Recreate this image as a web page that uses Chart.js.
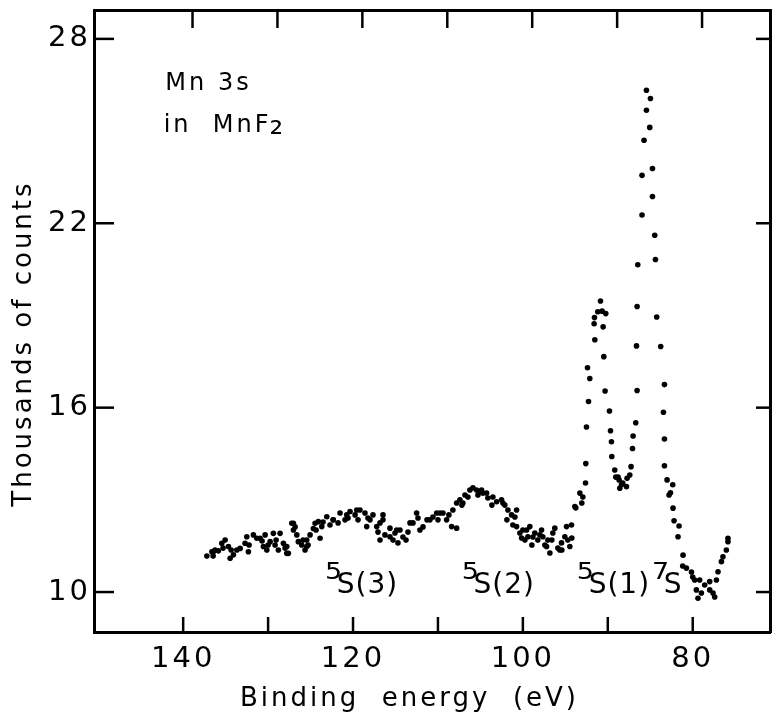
<!DOCTYPE html>
<html>
<head>
<meta charset="utf-8">
<script src="https://cdn.jsdelivr.net/npm/chart.js@4"></script>
<style>
  body { margin: 0; background: #fff; }
  canvas { display: block; }
</style>
</head>
<body>
<canvas id="chart" width="775" height="720"></canvas>
<script>
// Mn 3s spectrum in MnF2 - binding energy (eV) vs thousands of counts
const bandEnergy = [
  137.21, 136.62, 136.44, 136.24, 135.85, 135.45, 135.06, 134.67, 134.47, 134.08,
  133.68, 133.29, 132.71, 132.51, 132.32, 131.73, 131.33, 130.94, 130.55, 130.35,
  130.15, 129.76, 129.38, 129.18, 128.79, 128.59, 128.20, 127.80, 127.80, 127.61,
  127.21, 127.02, 127.02, 126.62, 126.44, 126.04, 125.65, 125.45, 125.45, 125.06,
  124.67, 124.47, 124.08, 123.88, 123.68, 123.09, 122.35, 122.32, 121.53, 120.94,
  120.74, 120.35, 119.76, 119.56, 119.18, 118.59, 118.39, 118.00, 117.65, 117.21,
  116.82, 116.82, 116.47, 116.47, 116.24, 115.65, 115.65, 115.29, 115.06, 114.86,
  114.71, 114.12, 113.53, 113.29, 112.94, 112.51, 112.35, 111.76, 111.29, 110.94,
  110.59, 110.15, 109.76, 109.41, 108.98, 108.39, 108.24, 107.80, 107.80, 107.41,
  107.06, 106.82, 106.47, 106.24, 105.88, 105.45, 105.06, 104.86, 104.71, 104.27,
  104.12, 103.53, 103.09, 102.51, 102.35, 102.12, 101.76, 101.33, 100.94, 100.74,
  100.74, 100.35, 100.15, 100.00, 99.56, 99.41, 99.18, 98.82, 98.59, 98.24,
  97.80, 97.65, 97.21, 97.06, 96.82, 96.47, 96.24, 95.88, 95.65, 95.45,
  95.06, 94.86, 94.71, 94.47, 94.27, 93.88
];
const bandCounts = [
  11.17, 11.31, 11.31, 11.37, 11.34, 11.59, 11.69, 11.48, 11.10, 11.21,
  11.37, 11.42, 11.59, 11.80, 11.31, 11.86, 11.75, 11.75, 11.48, 11.86,
  11.37, 11.64, 11.91, 11.53, 11.37, 11.91, 11.59, 11.48, 11.26, 11.26,
  12.24, 12.02, 12.24, 11.86, 11.64, 11.53, 11.37, 11.69, 11.48, 11.86,
  12.07, 12.24, 12.29, 11.75, 12.13, 12.45, 12.35, 12.35, 12.57, 12.35,
  12.51, 12.62, 12.51, 12.67, 12.67, 12.57, 12.13, 12.35, 12.51, 12.13,
  12.25, 11.69, 12.35, 12.51, 11.86, 12.08, 11.80, 11.69, 11.92, 12.02,
  11.60, 11.79, 11.95, 12.25, 12.25, 12.57, 12.41, 12.12, 12.35, 12.35,
  12.44, 12.57, 12.57, 12.57, 12.35, 12.13, 12.67, 12.90, 12.08, 13.00,
  12.90, 13.16, 13.09, 13.32, 13.39, 13.32, 13.26, 13.32, 13.22, 13.22,
  13.06, 13.09, 12.94, 13.00, 12.90, 12.83, 12.67, 12.51, 12.44, 12.67,
  12.13, 11.92, 11.76, 12.02, 12.02, 11.80, 12.13, 11.79, 11.92, 11.69,
  12.02, 11.80, 11.48, 11.69, 11.27, 11.92, 12.08, 11.43, 11.37, 11.60,
  11.80, 12.13, 11.69, 11.48, 12.18, 12.78
];
// extra dots inside the dense, overlapping clumps of the broad band
const clumpEnergy = [
  136.47, 135.30, 134.35, 132.24, 130.71, 130.00, 129.06, 128.00, 126.82, 125.88,
  125.29, 124.35, 123.53, 122.71, 121.76, 120.59, 119.41, 118.24, 117.06, 114.47,
  113.76, 112.12, 110.00, 108.71, 107.18, 105.29, 103.65, 101.88, 101.18, 99.76,
  98.94, 98.00, 97.41, 96.59, 95.41, 94.24
];
const clumpCounts = [
  11.17, 11.43, 11.37, 11.53, 11.66, 11.53, 11.69, 11.43, 12.12, 11.69,
  11.53, 12.02, 12.28, 12.18, 12.25, 12.41, 12.35, 12.41, 11.95, 12.02,
  11.69, 12.02, 12.35, 12.51, 12.83, 13.16, 12.83, 12.35, 12.18, 11.69,
  11.53, 11.86, 11.53, 11.69, 11.37, 11.76
];
const peakEnergy = [
  93.77, 93.29, 93.06, 92.94, 92.62, 92.59, 92.51, 92.39, 92.27, 92.12,
  91.61, 91.57, 91.53, 91.18, 90.86, 90.67, 90.55, 90.47, 90.32, 90.24,
  89.80, 89.68, 89.57, 89.53, 89.18, 89.06, 88.79, 88.67, 88.59, 88.39,
  88.24, 87.80, 87.73, 87.41, 87.26, 87.09, 87.02, 86.71, 86.62, 86.55,
  86.55, 86.47, 85.97, 85.97, 85.73, 85.45, 85.45, 85.06, 84.98, 84.74,
  84.74, 84.47, 84.39, 84.24, 83.77, 83.45, 83.33, 83.33, 83.33, 83.02,
  82.79, 82.62, 82.35, 82.32, 82.20, 81.73, 81.61, 81.18, 81.14, 80.74,
  80.15, 80.00, 79.77, 79.57, 79.38, 79.18, 78.98, 78.59, 78.00, 78.00,
  77.61, 77.41, 77.21, 77.02, 76.62, 76.44, 76.04, 75.85, 75.85
];
const peakCounts = [
  12.74, 13.22, 12.90, 13.09, 13.55, 14.18, 15.37, 17.30, 16.20, 16.95,
  18.73, 18.93, 18.21, 19.12, 19.47, 19.14, 18.63, 17.66, 16.54, 19.06,
  15.89, 15.25, 14.89, 14.41, 13.97, 13.74, 13.74, 13.65, 13.38, 13.49,
  13.55, 13.43, 13.70, 13.81, 14.08, 14.67, 15.08, 15.51, 18.01, 16.56,
  19.29, 20.65, 22.27, 23.56, 24.70, 25.68, 26.33, 25.12, 26.06, 23.78,
  22.87, 21.61, 20.82, 18.95, 17.99, 15.85, 16.75, 14.98, 14.11, 13.65,
  13.16, 13.23, 13.49, 12.73, 12.32, 11.80, 12.15, 10.85, 11.20, 10.78,
  10.65, 10.49, 10.39, 10.07, 9.80, 10.39, 9.97, 10.23, 10.07, 10.34,
  9.97, 9.84, 10.39, 10.66, 10.99, 11.15, 11.37, 11.64, 11.75
];
const xTicks = [140, 130, 120, 110, 100, 90, 80];
const yTicks = [10, 16, 22, 28];
// labels drawn in the plot: main text, superscript, subscript
const noteTexts = ['Mn 3s', 'in  MnF', 'S(3)', 'S(2)', 'S(1)', 'S'];
const noteSup = ['', '', '⁵', '⁵', '⁵', '⁷'];
const noteSub = ['', '₂', '', '', '', ''];
const noteEnergy = [142.1, 142.3, 123.3, 107.2, 93.65, 84.8];
const noteCounts = [26.35, 24.98, 9.97, 9.97, 9.97, 9.97];

const FONT = 'DejaVu Sans';
const toPoints = (xs, ys) => xs.map((e, i) => ({ x: e, y: ys[i] }));
const points = toPoints(bandEnergy, bandCounts)
  .concat(toPoints(clumpEnergy, clumpCounts))
  .concat(toPoints(peakEnergy, peakCounts));

// tick marks point into the plot on all four sides
const tickLen = { x: 15, x2: 18, y: 20, y2: 14 };

const decor = {
  id: 'decor',
  beforeDraw(chart) {
    chart.ctx.letterSpacing = '3px';
  },
  afterDraw(chart) {
    const { ctx, chartArea: a } = chart;
    ctx.save();
    ctx.strokeStyle = '#000';
    ctx.lineWidth = 2.5;
    Object.keys(tickLen).forEach(id => {
      const s = chart.scales[id];
      const len = tickLen[id];
      s.ticks.forEach(t => {
        const p = s.getPixelForValue(t.value);
        ctx.beginPath();
        if (id === 'x') { ctx.moveTo(p, a.bottom); ctx.lineTo(p, a.bottom - len); }
        if (id === 'x2') { ctx.moveTo(p, a.top); ctx.lineTo(p, a.top + len); }
        if (id === 'y') { ctx.moveTo(a.left, p); ctx.lineTo(a.left + len, p); }
        if (id === 'y2') { ctx.moveTo(a.right, p); ctx.lineTo(a.right - len, p); }
        ctx.stroke();
      });
    });

    ctx.fillStyle = '#000';
    ctx.textBaseline = 'alphabetic';
    ctx.textAlign = 'left';
    noteTexts.forEach((txt, i) => {
      const small = i < 2;
      let x = chart.scales.x.getPixelForValue(noteEnergy[i]);
      const y = chart.scales.y.getPixelForValue(noteCounts[i]);
      ctx.letterSpacing = small ? '3px' : '1px';
      if (noteSup[i]) {
        ctx.font = '42px "' + FONT + '"';
        ctx.fillText(noteSup[i], x, y);
        x += ctx.measureText(noteSup[i]).width - 6;
      }
      ctx.font = (small ? 24 : 28) + 'px "' + FONT + '"';
      ctx.fillText(txt, x, y);
      if (noteSub[i]) {
        x += ctx.measureText(txt).width - 2;
        ctx.font = '34px "' + FONT + '"';
        ctx.fillText(noteSub[i], x, y + 2);
      }
    });
    ctx.restore();
    ctx.letterSpacing = '0px';
  }
};

// let the plot fill the box exactly: no extra room for half labels
const noPad = s => { s.paddingTop = 0; s.paddingBottom = 0; s.paddingLeft = 0; s.paddingRight = 0; };

const ctx = document.getElementById('chart').getContext('2d');
const chart = new Chart(ctx, {
  type: 'scatter',
  data: {
    datasets: [{
      data: points,
      pointRadius: 2.8,
      pointBackgroundColor: '#000',
      pointBorderWidth: 0
    }]
  },
  options: {
    responsive: false,
    animation: false,
    layout: { padding: 0 },
    plugins: { legend: { display: false }, tooltip: { enabled: false } },
    scales: {
      x: {
        type: 'linear', position: 'bottom', reverse: true, min: 70.9, max: 150.5,
        afterBuildTicks: s => { s.ticks = xTicks.map(v => ({ value: v })); },
        afterFit: s => { s.height = 88; noPad(s); },
        grid: { display: false, drawTicks: false },
        border: { display: true, color: '#000', width: 3 },
        ticks: {
          color: '#000', font: { family: FONT, size: 29 }, padding: 10,
          maxRotation: 0, autoSkip: false,
          callback: v => (v % 20 === 0 ? v : '')
        },
        title: {
          display: true, text: 'Binding  energy  (eV)    ', color: '#000',
          font: { family: FONT, size: 26 }, padding: { top: 0, bottom: 5 }
        }
      },
      x2: {
        type: 'linear', position: 'top', reverse: true, min: 72.0, max: 151.6,
        afterBuildTicks: s => { s.ticks = xTicks.map(v => ({ value: v })); },
        afterFit: s => { s.height = 10; noPad(s); },
        grid: { display: false, drawTicks: false },
        border: { display: true, color: '#000', width: 3 },
        ticks: { display: false }
      },
      y: {
        type: 'linear', position: 'left', min: 8.70, max: 28.94,
        afterBuildTicks: s => { s.ticks = yTicks.map(v => ({ value: v })); },
        afterFit: s => { s.width = 94; noPad(s); },
        grid: { display: false, drawTicks: false },
        border: { display: true, color: '#000', width: 3 },
        ticks: { color: '#000', font: { family: FONT, size: 29 }, padding: 3 },
        title: {
          display: true, text: 'Thousands of counts    ', color: '#000',
          font: { family: FONT, size: 26 }, padding: { top: 9, bottom: 0 }
        }
      },
      y2: {
        type: 'linear', position: 'right', min: 8.70, max: 28.94,
        afterBuildTicks: s => { s.ticks = yTicks.map(v => ({ value: v })); },
        afterFit: s => { s.width = 5; noPad(s); },
        grid: { display: false, drawTicks: false },
        border: { display: true, color: '#000', width: 3 },
        ticks: { display: false }
      }
    }
  },
  plugins: [decor]
});
</script>
</body>
</html>
